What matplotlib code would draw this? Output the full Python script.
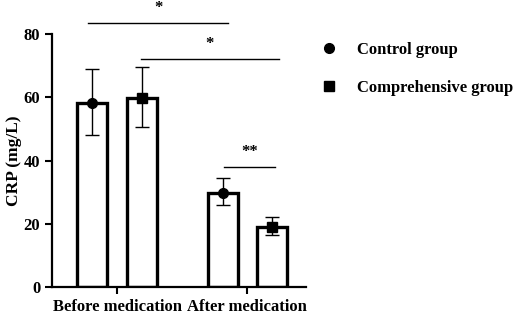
import matplotlib.pyplot as plt
import numpy as np

plt.rcParams['font.family'] = ['Liberation Serif', 'DejaVu Serif']
plt.rcParams['font.weight'] = 'bold'

groups = ['Before medication', 'After medication']
series = ['Control group', 'Comprehensive group']
means = {'Control group': [58.2, 29.8], 'Comprehensive group': [59.7, 19.1]}
upper = {'Control group': [69.0, 34.4], 'Comprehensive group': [69.7, 22.2]}
lower = {'Control group': [48.1, 25.9], 'Comprehensive group': [50.7, 16.4]}
markers = {'Control group': 'o', 'Comprehensive group': 's'}

# significance brackets: (x1, x2, y, label)
sig = [(-0.22, 0.85, 83.4, '*'), (0.18, 1.24, 72.1, '*'), (0.82, 1.21, 38.0, '**')]

fig = plt.figure(figsize=(5.21, 3.2), dpi=100)
ax = fig.add_axes([0.0998, 0.103, 0.4875, 0.79])

x = np.arange(len(groups))
offs = [-0.19, 0.19]
w = 0.23
handles = []
for s, o in zip(series, offs):
    m = np.array(means[s])
    err = [m - np.array(lower[s]), np.array(upper[s]) - m]
    ax.bar(x + o, m, w, facecolor='white', edgecolor='black', linewidth=2.4, zorder=2)
    ax.errorbar(x + o, m, yerr=err, fmt='none', ecolor='black', elinewidth=1.0,
                capsize=5, capthick=1.0, zorder=3)
    h, = ax.plot(x + o, m, linestyle='none', marker=markers[s], color='black',
                 markersize=7, zorder=4, label=s)
    handles.append(h)

for x1, x2, y, lab in sig:
    ax.plot([x1, x2], [y, y], color='black', lw=1.0, clip_on=False)
    ax.text((x1 + x2) / 2, y + 2.3, lab, ha='center', va='bottom', fontsize=12,
            fontweight='bold')

ax.set_xlim(-0.5, 1.45)
ax.set_ylim(0, 80)
ax.set_yticks([0, 20, 40, 60, 80])
ax.set_xticks(x)
ax.set_xticklabels(groups)
ax.set_ylabel('CRP (mg/L)', fontsize=12.5, fontweight='bold', labelpad=1)
ax.tick_params(labelsize=12, width=1.5, length=5)
for sp in ['top', 'right']:
    ax.spines[sp].set_visible(False)
for sp in ['left', 'bottom']:
    ax.spines[sp].set_linewidth(1.6)

fig.legend(handles=handles, loc='upper left', bbox_to_anchor=(0.587, 0.915),
           frameon=False, fontsize=12, handlelength=1.0, labelspacing=1.3,
           handletextpad=1.15)

fig.savefig('out.png', dpi=100)
